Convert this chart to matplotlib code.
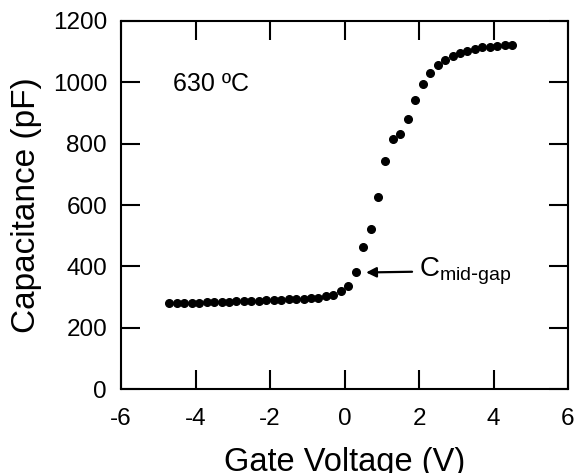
import numpy as np
from matplotlib import pyplot as plt

plt.rcParams['font.family'] = ['Liberation Sans', 'DejaVu Sans']
plt.rcParams['axes.unicode_minus'] = False

# gate voltage (V) and capacitance (pF)
voltage = np.array([-4.7, -4.5, -4.3, -4.1, -3.9, -3.7, -3.5, -3.3, -3.1, -2.9,
                    -2.7, -2.5, -2.3, -2.1, -1.9, -1.7, -1.5, -1.3, -1.1, -0.9,
                    -0.7, -0.5, -0.3, -0.1, 0.1, 0.3, 0.5, 0.7, 0.9, 1.1,
                    1.3, 1.5, 1.7, 1.9, 2.1, 2.3, 2.5, 2.7, 2.9, 3.1,
                    3.3, 3.5, 3.7, 3.9, 4.1, 4.3, 4.5])
capacitance = np.array([279, 280, 281, 281, 282, 283, 283, 284, 285, 286,
                        286, 287, 288, 289, 290, 291, 292, 293, 295, 296,
                        298, 302, 308, 321, 337, 383, 462, 522, 627, 745,
                        814, 833, 881, 943, 995, 1031, 1057, 1072, 1086, 1095,
                        1102, 1109, 1114, 1115, 1119, 1121, 1122])

xticks = [-6, -4, -2, 0, 2, 4, 6]
yticks = [0, 200, 400, 600, 800, 1000, 1200]

fig = plt.figure(figsize=(5.81, 4.73), dpi=100)
ax = fig.add_axes([121/581, 1 - 389/473, (568-121)/581, (389-21)/473])

ax.plot(voltage, capacitance, 'o', color='black', markersize=5.5)

ax.set_xlim(-6, 6)
ax.set_ylim(0, 1200)
ax.set_xticks(xticks)
ax.set_yticks(yticks)
ax.tick_params(direction='in', length=14, width=1.5, top=True, right=True,
               labelsize=17.5)
ax.tick_params(axis='y', pad=10)
ax.tick_params(axis='x', pad=14)
for s in ax.spines.values():
    s.set_linewidth(1.5)

ax.set_xlabel("Gate Voltage (V)", fontsize=23.5, labelpad=12)
ax.set_ylabel("Capacitance (pF)", fontsize=24, labelpad=8)

ax.text(-4.6, 995, "630 ºC", fontsize=18, va='center', ha='left')
ax.annotate(r"C$_{\mathregular{mid\text{-}gap}}$", xy=(0.58, 380), xytext=(2.0, 385),
            fontsize=20, va='center', ha='left',
            arrowprops=dict(arrowstyle='-|>', color='black', lw=1.6, mutation_scale=15,
                            shrinkA=3, shrinkB=0))

plt.savefig("out.png", dpi=100)
